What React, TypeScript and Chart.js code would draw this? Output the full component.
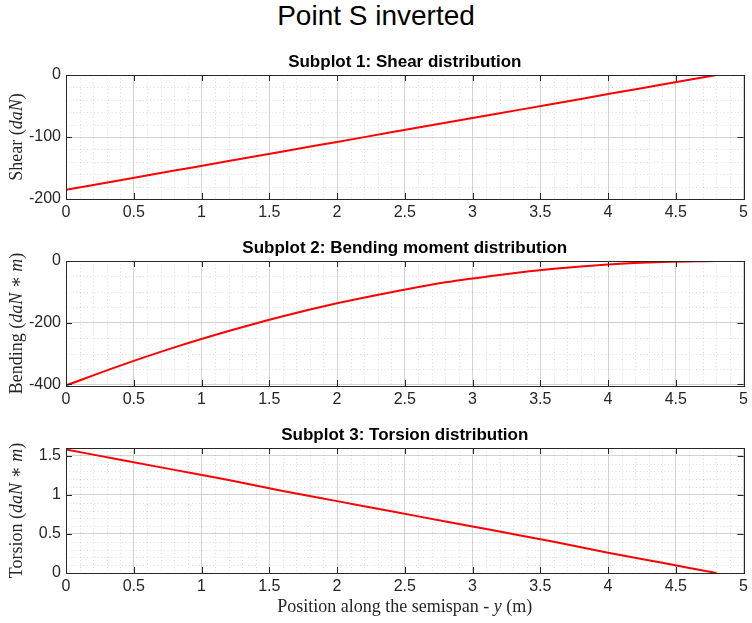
import React, { useEffect, useRef } from "react";
import { Chart, registerables } from "chart.js";
Chart.register(...registerables);

const positions = [0, 0.4, 0.8, 1.2, 1.6, 2.0, 2.4, 2.8, 3.2, 3.6, 4.0, 4.4, 4.8];
const shear = [-185, -169.6, -154.2, -138.8, -123.3, -107.9, -92.5, -77.1, -61.7, -46.3, -30.8, -15.4, 0];
const bending = [-403, -339, -280, -227, -179, -137, -101, -69, -45, -25, -11, -3, 0];
const torsion = [1.58, 1.45, 1.32, 1.19, 1.05, 0.92, 0.79, 0.66, 0.53, 0.4, 0.26, 0.13, 0];
const xTicks = [0, 0.5, 1, 1.5, 2, 2.5, 3, 3.5, 4, 4.5, 5];

type Seg = [string, boolean];
interface Cfg {
  title: string; data: number[]; ymin: number; ymax: number; yTicks: number[]; yMinorStep: number;
  top: number; height: number; areaTop: number; areaBottom: number; ylabel: Seg[]; xlabel?: Seg[];
}

const SANS = "'Liberation Sans', Arial, sans-serif";
const SERIF = "'Liberation Serif', 'DejaVu Serif', serif";

function drawSegs(ctx: CanvasRenderingContext2D, segs: Seg[], size: number) {
  const parts = segs.map(([t, it]) => {
    ctx.font = `${it ? "italic " : ""}${size}px ${SERIF}`;
    return { t, it, w: ctx.measureText(t).width };
  });
  const total = parts.reduce((a, p) => a + p.w, 0);
  let x = -total / 2;
  for (const p of parts) {
    ctx.font = `${p.it ? "italic " : ""}${size}px ${SERIF}`;
    ctx.fillText(p.t, x, 0);
    x += p.w;
  }
}

function Sub({ cfg }: { cfg: Cfg }) {
  const ref = useRef<HTMLCanvasElement>(null);
  useEffect(() => {
    const c = cfg;
    const plugin = {
      id: "matlab",
      beforeDatasetsDraw(chart: any) {
        const { ctx, chartArea: a, scales } = chart;
        ctx.save();
        ctx.strokeStyle = "rgba(150,150,150,0.55)";
        ctx.lineWidth = 0.6;
        ctx.setLineDash([1, 2.5]);
        for (let i = 1; i < 50; i++) {
          const v = i / 10;
          if (Math.abs(v * 2 - Math.round(v * 2)) < 1e-6) continue;
          const px = Math.round(scales.x.getPixelForValue(v)) + 0.5;
          ctx.beginPath(); ctx.moveTo(px, a.top); ctx.lineTo(px, a.bottom); ctx.stroke();
        }
        for (let v = c.ymax; v >= c.ymin - 1e-9; v -= c.yMinorStep) {
          const vv = Math.round(v * 1000) / 1000;
          if (c.yTicks.some((t) => Math.abs(t - vv) < 1e-6)) continue;
          const py = Math.round(scales.y.getPixelForValue(vv)) + 0.5;
          ctx.beginPath(); ctx.moveTo(a.left, py); ctx.lineTo(a.right, py); ctx.stroke();
        }
        ctx.restore();
      },
      afterDraw(chart: any) {
        const { ctx, chartArea: a, scales } = chart;
        ctx.save();
        ctx.strokeStyle = "#262626";
        ctx.lineWidth = 1;
        ctx.strokeRect(Math.round(a.left) + 0.5, Math.round(a.top) + 0.5, Math.round(a.right - a.left), Math.round(a.bottom - a.top));
        ctx.beginPath();
        for (const v of xTicks) {
          const px = Math.round(scales.x.getPixelForValue(v)) + 0.5;
          ctx.moveTo(px, a.bottom); ctx.lineTo(px, a.bottom - 6);
          ctx.moveTo(px, a.top); ctx.lineTo(px, a.top + 6);
        }
        for (const v of c.yTicks) {
          const py = Math.round(scales.y.getPixelForValue(v)) + 0.5;
          ctx.moveTo(a.left, py); ctx.lineTo(a.left + 6, py);
          ctx.moveTo(a.right, py); ctx.lineTo(a.right - 6, py);
        }
        ctx.stroke();
        ctx.fillStyle = "#000";
        ctx.font = `bold 17px ${SANS}`;
        ctx.textAlign = "center";
        ctx.textBaseline = "bottom";
        ctx.fillText(c.title, (a.left + a.right) / 2, a.top - 4);
        ctx.fillStyle = "#262626";
        ctx.textAlign = "left";
        ctx.textBaseline = "middle";
        ctx.save();
        ctx.translate(17, (a.top + a.bottom) / 2);
        ctx.rotate(-Math.PI / 2);
        drawSegs(ctx, c.ylabel, 18);
        ctx.restore();
        if (c.xlabel) {
          ctx.save();
          ctx.translate((a.left + a.right) / 2, a.bottom + 34);
          drawSegs(ctx, c.xlabel, 18);
          ctx.restore();
        }
        ctx.restore();
      },
    };
    const chart = new Chart(ref.current!, {
      type: "line",
      data: {
        datasets: [{
          data: positions.map((x, i) => ({ x, y: c.data[i] })),
          borderColor: "#ff0000", borderWidth: 2, pointRadius: 0, cubicInterpolationMode: "monotone",
        }],
      },
      options: {
        animation: false, responsive: false, maintainAspectRatio: false,
        layout: { padding: { top: c.areaTop, right: 6, left: 0, bottom: 0 } },
        plugins: { legend: { display: false }, tooltip: { enabled: false } },
        scales: {
          x: {
            type: "linear", min: 0, max: 5,
            afterBuildTicks: (s: any) => { s.ticks = xTicks.map((value) => ({ value })); },
            afterFit: (s: any) => { s.height = c.height - c.areaBottom; },
            grid: { color: "rgba(200,200,200,0.8)", drawTicks: false },
            border: { display: false },
            ticks: { color: "#262626", font: { family: SANS, size: 16 }, padding: 4, maxRotation: 0, autoSkip: false,
              callback: (v: any) => String(v) },
          },
          y: {
            type: "linear", min: c.ymin, max: c.ymax,
            afterBuildTicks: (s: any) => { s.ticks = c.yTicks.map((value) => ({ value })); },
            afterFit: (s: any) => { s.width = 66; },
            grid: { color: "rgba(200,200,200,0.8)", drawTicks: false },
            border: { display: false },
            ticks: { color: "#262626", font: { family: SANS, size: 16 }, padding: 5, autoSkip: false,
              callback: (v: any) => String(v) },
          },
        },
      },
      plugins: [plugin],
    } as any);
    return () => chart.destroy();
  }, [cfg]);
  return (
    <canvas ref={ref} width={752} height={cfg.height}
      style={{ position: "absolute", left: 0, top: cfg.top, width: 752, height: cfg.height }} />
  );
}

const cfgs: Cfg[] = [
  { title: "Subplot 1: Shear distribution", data: shear, ymin: -200, ymax: 0, yTicks: [-200, -100, 0], yMinorStep: 20,
    top: 40, height: 190, areaTop: 35, areaBottom: 159, ylabel: [["Shear (", false], ["daN", true], [")", false]] },
  { title: "Subplot 2: Bending moment distribution", data: bending, ymin: -405, ymax: 0, yTicks: [-400, -200, 0], yMinorStep: 50,
    top: 225, height: 190, areaTop: 36, areaBottom: 161, ylabel: [["Bending (", false], ["daN", true], [" ∗ ", false], ["m", true], [")", false]] },
  { title: "Subplot 3: Torsion distribution", data: torsion, ymin: 0, ymax: 1.6, yTicks: [0, 0.5, 1, 1.5], yMinorStep: 0.1,
    top: 410, height: 213, areaTop: 38, areaBottom: 163, ylabel: [["Torsion (", false], ["daN", true], [" ∗ ", false], ["m", true], [")", false]],
    xlabel: [["Position along the semispan - ", false], ["y", true], [" (m)", false]] },
];

export default function App() {
  return (
    <div style={{ position: "fixed", left: 0, top: 0, width: 752, height: 623, background: "#fff", overflow: "hidden" }}>
      <div style={{ position: "absolute", top: 0, width: 752, textAlign: "center", fontFamily: SANS, fontSize: 28, lineHeight: "32px", color: "#000" }}>
        Point S inverted
      </div>
      {cfgs.map((c, i) => <Sub key={i} cfg={c} />)}
    </div>
  );
}
